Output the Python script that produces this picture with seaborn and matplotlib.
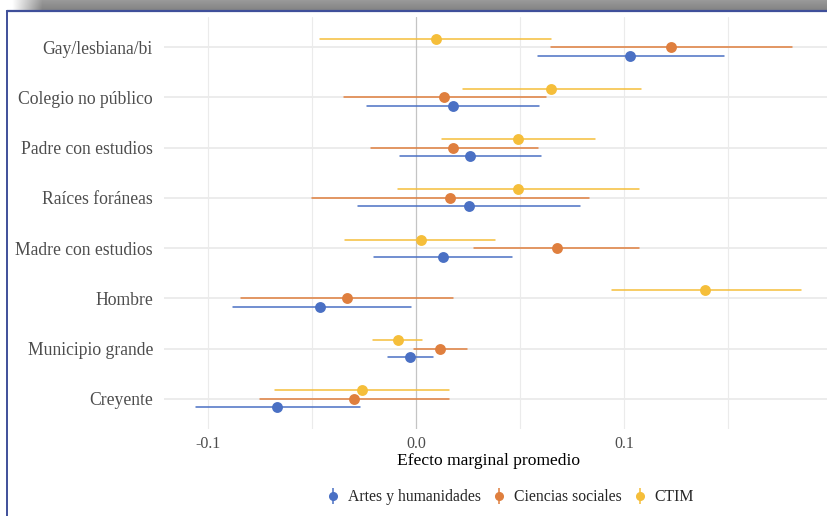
import numpy as np
import pandas as pd
import matplotlib
matplotlib.use("Agg")
import matplotlib.pyplot as plt
from matplotlib.lines import Line2D
from matplotlib.legend_handler import HandlerTuple
import seaborn as sns

categories = ["Gay/lesbiana/bi", "Colegio no público", "Padre con estudios",
              "Raíces foráneas", "Madre con estudios", "Hombre",
              "Municipio grande", "Creyente"]
groups = ["Artes y humanidades", "Ciencias sociales", "CTIM"]

# estimates and confidence limits, per group, in category order
ah_est  = [0.103, 0.018, 0.026, 0.0255, 0.013, -0.046, -0.003, -0.067]
ah_low  = [0.0587, -0.0236, -0.0077, -0.028, -0.020, -0.088, -0.0135, -0.106]
ah_high = [0.148, 0.059, 0.060, 0.079, 0.046, -0.0024, 0.008, -0.027]

cs_est  = [0.1226, 0.0135, 0.018, 0.0163, 0.068, -0.033, 0.0115, -0.030]
cs_low  = [0.065, -0.0346, -0.0216, -0.050, 0.028, -0.084, -0.001, -0.075]
cs_high = [0.181, 0.0625, 0.0587, 0.083, 0.107, 0.018, 0.0245, 0.016]

ct_est  = [0.0096, 0.065, 0.049, 0.049, 0.0024, 0.139, -0.0087, -0.026]
ct_low  = [-0.046, 0.0226, 0.0125, -0.0087, -0.034, 0.094, -0.0207, -0.068]
ct_high = [0.065, 0.108, 0.086, 0.107, 0.038, 0.185, 0.0029, 0.016]

colors = {"Artes y humanidades": "#4A70C4",
          "Ciencias sociales": "#DF7F3E",
          "CTIM": "#F5BE3A"}

series = {"Artes y humanidades": (ah_low, ah_est, ah_high),
          "Ciencias sociales": (cs_low, cs_est, cs_high),
          "CTIM": (ct_low, ct_est, ct_high)}

rows = []
for g, (lo, est, hi) in series.items():
    for c, l, e, h in zip(categories, lo, est, hi):
        for v in (l, e, h):
            rows.append({"variable": c, "grupo": g, "valor": v})
df = pd.DataFrame(rows)

sns.set_theme(style="white")
plt.rcParams["font.family"] = ["Liberation Serif", "DejaVu Serif"]

W, H = 827, 516
fig = plt.figure(figsize=(W / 100, H / 100), dpi=100)
fig.patch.set_facecolor("white")

x0_pix, unit = 416, 2080.0
xmin = (164 - x0_pix) / unit
xmax = (W - x0_pix) / unit
ax = fig.add_axes([164 / W, 1 - 429 / H, (W - 164) / W, (429 - 17) / H])

hue_order = ["CTIM", "Ciencias sociales", "Artes y humanidades"]
sns.pointplot(data=df, x="valor", y="variable", hue="grupo",
              order=categories, hue_order=hue_order, palette=colors,
              estimator="median", errorbar=("pi", 100), orient="h",
              dodge=0.34, linestyles="none", markers="o", markersize=5.8,
              err_kws={"linewidth": 1.1}, legend=False, ax=ax)

ax.set_xlim(xmin, xmax)
ax.set_ylim(len(categories) - 1 + 0.6, -0.6)
ax.set_facecolor("white")
for s in ax.spines.values():
    s.set_visible(False)

# grid
for yv in range(len(categories)):
    ax.axhline(yv, color="#EBEBEB", lw=1.3, zorder=0)
for xv in [-0.1, -0.05, 0.05, 0.1, 0.15]:
    ax.axvline(xv, color="#EBEBEB", lw=0.8, zorder=0)
ax.axvline(0, color="#C4C4C4", lw=0.9, zorder=0.5)

ax.set_xticks([-0.1, 0.0, 0.1])
ax.set_xticklabels(["-0.1", "0.0", "0.1"])
ax.tick_params(axis="x", length=0, pad=5, labelsize=11.5, labelcolor="#4D4D4D")
ax.tick_params(axis="y", length=0, pad=8, labelsize=12.7, labelcolor="#4D4D4D")
ax.set_ylabel("")
ax.set_xlabel("Efecto marginal promedio", fontsize=12.6, color="black")
ax.xaxis.set_label_coords((489 - 164) / (W - 164), -(453 - 429) / (429 - 17))

# legend
handles = []
for g in groups:
    bar = Line2D([], [], color=colors[g], marker="|", markersize=11,
                 markeredgewidth=1.1, linestyle="none")
    dot = Line2D([], [], color=colors[g], marker="o", markersize=5.5,
                 linestyle="none")
    handles.append((bar, dot))
fig.legend(handles, groups, loc="center", bbox_to_anchor=(511 / W, 1 - 497 / H),
           ncol=3, frameon=False, fontsize=11.3, handlelength=0.7,
           handletextpad=0.6, columnspacing=0.8,
           handler_map={tuple: HandlerTuple(ndivide=1)})

# screenshot frame decoration
deco = fig.add_axes([0, 1 - 10 / H, 1, 10 / H])
xs = np.linspace(0, W, W)
fade = np.clip((xs - 12) / 30.0, 0, 1)
ys = np.linspace(0, 1, 10)[:, None]
gray = 0.60 - 0.08 * ys
img = 1 - (1 - gray) * fade[None, :]
deco.imshow(np.dstack([img, img, img]), aspect="auto", extent=[0, 1, 0, 1])
deco.axis("off")
fig.add_artist(Line2D([7 / W, 1], [1 - 11 / H, 1 - 11 / H], color="#3F4F9A",
                      lw=1.6, transform=fig.transFigure))
fig.add_artist(Line2D([7 / W, 7 / W], [0, 1 - 11 / H], color="#3F4F9A",
                      lw=1.4, transform=fig.transFigure))

fig.savefig("out.png", dpi=100)
